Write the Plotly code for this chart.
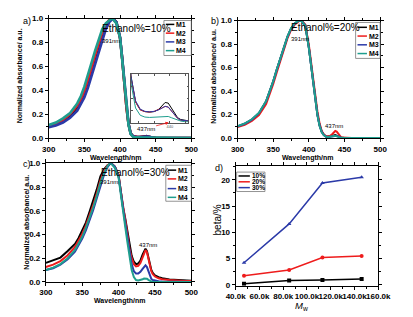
import plotly.graph_objects as go

W, H = 413, 317


def px(x):
    return x / W


def py(y):
    return 1 - y / H


# ---------------- data ----------------
wavelength = [300, 310, 320, 330, 340, 345, 350, 355, 360, 365, 370, 375, 380, 385, 388,
              390, 395, 400, 403, 406, 409, 412, 415, 418, 421, 424, 427, 430, 433, 435,
              437, 439, 441, 443, 445, 447, 450, 455, 460, 470, 480, 490, 500]

series_names = ["M1", "M2", "M3", "M4"]
series_colors = ["#000000", "#ee1c1c", "#2b3aa8", "#1f9e8e"]

# Panel a: Ethanol% = 10%
a_M1 = [0.100, 0.115, 0.145, 0.190, 0.260, 0.310, 0.380, 0.460, 0.570, 0.670,
        0.780, 0.870, 0.940, 0.985, 0.998, 1.000, 0.970, 0.840, 0.670, 0.460,
        0.260, 0.115, 0.039, 0.017, 0.0105, 0.0090, 0.0086, 0.0090, 0.0110, 0.0140,
        0.0165, 0.0160, 0.0120, 0.0070, 0.0040, 0.0025, 0.0015, 0.0007, 0.0004, 0.0002,
        0.0001, 0.0, 0.0]
a_M2 = [0.100, 0.120, 0.150, 0.200, 0.270, 0.320, 0.390, 0.480, 0.580, 0.690,
        0.790, 0.880, 0.950, 0.990, 1.000, 0.998, 0.965, 0.840, 0.670, 0.460,
        0.260, 0.115, 0.037, 0.017, 0.0105, 0.0090, 0.0087, 0.0092, 0.0108, 0.0122,
        0.0133, 0.0127, 0.0098, 0.0062, 0.0034, 0.0018, 0.0010, 0.0005, 0.0003, 0.0001,
        0.0, 0.0, 0.0]
a_M3 = [0.090, 0.105, 0.130, 0.170, 0.230, 0.280, 0.340, 0.420, 0.520, 0.620,
        0.730, 0.830, 0.910, 0.970, 0.990, 1.000, 0.970, 0.845, 0.675, 0.470,
        0.270, 0.120, 0.038, 0.018, 0.0110, 0.0092, 0.0088, 0.0092, 0.0105, 0.0120,
        0.0133, 0.0128, 0.0100, 0.0065, 0.0035, 0.0020, 0.0012, 0.0006, 0.0003, 0.0001,
        0.0, 0.0, 0.0]
a_M4 = [0.110, 0.130, 0.165, 0.210, 0.290, 0.350, 0.430, 0.520, 0.630, 0.730,
        0.830, 0.910, 0.960, 0.990, 1.000, 0.995, 0.960, 0.840, 0.665, 0.455,
        0.255, 0.110, 0.033, 0.012, 0.0060, 0.0045, 0.0042, 0.0045, 0.0050, 0.0052,
        0.0052, 0.0050, 0.0040, 0.0030, 0.0020, 0.0012, 0.0006, 0.0003, 0.0002, 0.0001,
        0.0, 0.0, 0.0]

# Panel b: Ethanol% = 20%
b_M1 = [0.100, 0.120, 0.155, 0.210, 0.310, 0.390, 0.480, 0.580, 0.670, 0.775,
        0.860, 0.930, 0.970, 0.995, 1.000, 0.995, 0.960, 0.770, 0.620, 0.470,
        0.330, 0.200, 0.110, 0.055, 0.028, 0.014, 0.011, 0.013, 0.018, 0.022,
        0.025, 0.022, 0.015, 0.008, 0.004, 0.002, 0.001, 0.0005, 0.0002, 0.0,
        0.0, 0.0, 0.0]
b_M2 = [0.095, 0.112, 0.145, 0.195, 0.290, 0.370, 0.460, 0.560, 0.655, 0.760,
        0.850, 0.920, 0.965, 0.990, 1.000, 0.997, 0.965, 0.790, 0.640, 0.490,
        0.350, 0.225, 0.125, 0.060, 0.030, 0.017, 0.015, 0.020, 0.035, 0.050,
        0.060, 0.055, 0.036, 0.018, 0.008, 0.004, 0.002, 0.001, 0.0005, 0.0,
        0.0, 0.0, 0.0]
b_M3 = [0.100, 0.122, 0.157, 0.212, 0.312, 0.392, 0.482, 0.582, 0.672, 0.777,
        0.862, 0.932, 0.972, 0.996, 1.000, 0.994, 0.958, 0.768, 0.618, 0.468,
        0.328, 0.198, 0.108, 0.053, 0.026, 0.013, 0.010, 0.012, 0.017, 0.021,
        0.023, 0.020, 0.014, 0.007, 0.003, 0.0015, 0.0008, 0.0004, 0.0002, 0.0,
        0.0, 0.0, 0.0]
b_M4 = [0.102, 0.124, 0.160, 0.215, 0.315, 0.395, 0.485, 0.585, 0.675, 0.780,
        0.865, 0.935, 0.975, 0.997, 1.000, 0.993, 0.955, 0.765, 0.615, 0.465,
        0.325, 0.195, 0.105, 0.050, 0.024, 0.012, 0.009, 0.010, 0.014, 0.017,
        0.019, 0.017, 0.012, 0.006, 0.003, 0.0015, 0.0008, 0.0004, 0.0002, 0.0,
        0.0, 0.0, 0.0]

# Panel c: Ethanol% = 30%
c_M1 = [0.160, 0.180, 0.205, 0.260, 0.320, 0.370, 0.430, 0.500, 0.590, 0.680,
        0.780, 0.890, 0.950, 0.985, 0.998, 1.000, 0.970, 0.900, 0.770, 0.630,
        0.540, 0.425, 0.300, 0.220, 0.170, 0.150, 0.155, 0.180, 0.230, 0.260,
        0.280, 0.260, 0.200, 0.140, 0.100, 0.075, 0.055, 0.040, 0.030, 0.020,
        0.015, 0.011, 0.010]
c_M2 = [0.125, 0.145, 0.175, 0.225, 0.295, 0.345, 0.405, 0.475, 0.555, 0.645,
        0.745, 0.855, 0.935, 0.985, 0.998, 1.000, 0.970, 0.900, 0.765, 0.625,
        0.530, 0.410, 0.280, 0.200, 0.150, 0.130, 0.135, 0.160, 0.210, 0.245,
        0.268, 0.250, 0.190, 0.130, 0.090, 0.065, 0.045, 0.030, 0.022, 0.015,
        0.010, 0.008, 0.007]
c_M3 = [0.100, 0.115, 0.145, 0.190, 0.255, 0.305, 0.365, 0.435, 0.515, 0.605,
        0.705, 0.815, 0.905, 0.970, 0.995, 1.000, 0.970, 0.890, 0.750, 0.600,
        0.500, 0.380, 0.250, 0.150, 0.090, 0.070, 0.070, 0.085, 0.110, 0.130,
        0.140, 0.125, 0.085, 0.050, 0.025, 0.015, 0.010, 0.005, 0.003, 0.002,
        0.001, 0.0, 0.0]
c_M4 = [0.100, 0.120, 0.150, 0.200, 0.270, 0.320, 0.380, 0.455, 0.535, 0.625,
        0.725, 0.835, 0.920, 0.980, 1.000, 0.997, 0.960, 0.880, 0.740, 0.580,
        0.470, 0.340, 0.200, 0.100, 0.040, 0.015, 0.012, 0.015, 0.022, 0.028,
        0.030, 0.027, 0.017, 0.008, 0.003, 0.001, 0.0, 0.0, 0.0, 0.0,
        0.0, 0.0, 0.0]

# Panel d: beta vs Mw
mw = [47000, 85000, 113000, 146000]
beta_names = ["10%", "20%", "30%"]
beta_colors = ["#000000", "#ee1c1c", "#2b3aa8"]
beta_symbols = ["square", "circle", "triangle-up"]
beta_10 = [0.2, 0.8, 0.9, 1.1]
beta_20 = [1.7, 2.8, 5.2, 5.5]
beta_30 = [4.2, 11.6, 19.4, 20.5]

wl_ticks = [300, 350, 400, 450, 500]
abs_ticks = [0.0, 0.2, 0.4, 0.6, 0.8, 1.0]
mw_ticks = [40000, 60000, 80000, 100000, 120000, 140000, 160000]
mw_ticktext = ["40.0k", "60.0k", "80.0k", "100.0k", "120.0k", "140.0k", "160.0k"]
beta_ticks = [0, 5, 10, 15, 20]
inset_ticks = [440]

ethanol_labels = ["Ethanol%=10%", "Ethanol%=20%", "Ethanol%=30%"]

# ---------------- figure ----------------
FONT = "Liberation Sans, Arial, sans-serif"
fig = go.Figure()

spectra = [("x", "y", [a_M1, a_M2, a_M3, a_M4], 2.6),
           ("x2", "y2", [b_M1, b_M2, b_M3, b_M4], 2.0),
           ("x3", "y3", [c_M1, c_M2, c_M3, c_M4], 2.0)]
for xa, ya, data, lw in spectra:
    for name, color, vals in zip(series_names, series_colors, data):
        fig.add_trace(go.Scatter(x=wavelength, y=vals, mode="lines", name=name,
                                 line=dict(color=color, width=lw),
                                 xaxis=xa, yaxis=ya, showlegend=False))

# inset of panel a
for name, color, vals in zip(series_names, series_colors, [a_M1, a_M2, a_M3, a_M4]):
    fig.add_trace(go.Scatter(x=wavelength, y=vals, mode="lines", name=name,
                             line=dict(color=color, width=1),
                             xaxis="x5", yaxis="y5", showlegend=False))

for name, color, sym, vals in zip(beta_names, beta_colors, beta_symbols,
                                  [beta_10, beta_20, beta_30]):
    fig.add_trace(go.Scatter(x=mw, y=vals, mode="lines+markers", name=name,
                             line=dict(color=color, width=1.5),
                             marker=dict(color=color, symbol=sym, size=4),
                             xaxis="x4", yaxis="y4", showlegend=False))

tickfont = dict(family=FONT, size=8, color="black", weight="bold")


def base_axis(domain, anchor, **kw):
    d = dict(domain=domain, anchor=anchor, showline=True, linecolor="black",
             linewidth=1, mirror="ticks", ticks="outside", ticklen=3,
             tickcolor="black", tickwidth=1, showgrid=False, zeroline=False,
             tickfont=tickfont, tickangle=0)
    d.update(kw)
    return d


def wl_axis(domain, anchor):
    return base_axis(domain, anchor, range=[300, 500], tickvals=wl_ticks,
                     minor=dict(ticks="outside", ticklen=2, tickvals=[325, 375, 425, 475],
                                tickcolor="black"))


def abs_axis(domain, anchor):
    return base_axis(domain, anchor, range=[0, 1.0], tickvals=abs_ticks,
                     tickformat=".1f",
                     minor=dict(ticks="outside", ticklen=2,
                                tickvals=[0.1, 0.3, 0.5, 0.7, 0.9], tickcolor="black"))


dom_a = ([px(41), px(192)], [py(138), py(15)])
dom_b = ([px(241), px(392)], [py(138), py(17)])
dom_c = ([px(38), px(192)], [py(286), py(164)])
dom_d = ([px(239), px(390)], [py(290), py(167)])
dom_i = ([px(128), px(189)], [py(122), py(72)])

fig.update_layout(
    width=W, height=H, margin=dict(l=0, r=0, t=0, b=0),
    paper_bgcolor="white", plot_bgcolor="white", showlegend=False,
    font=dict(family=FONT, color="black"),
    xaxis=wl_axis(dom_a[0], "y"), yaxis=abs_axis(dom_a[1], "x"),
    xaxis2=wl_axis(dom_b[0], "y2"), yaxis2=abs_axis(dom_b[1], "x2"),
    xaxis3=wl_axis(dom_c[0], "y3"), yaxis3=abs_axis(dom_c[1], "x3"),
    xaxis4=base_axis(dom_d[0], "y4", range=[40000, 160000], tickvals=mw_ticks,
                     ticktext=mw_ticktext,
                     minor=dict(ticks="outside", ticklen=2, tickcolor="black",
                                tickvals=[50000, 70000, 90000, 110000, 130000, 150000])),
    yaxis4=base_axis(dom_d[1], "x4", range=[-0.2, 22.6], tickvals=beta_ticks,
                     minor=dict(ticks="outside", ticklen=2, tickcolor="black",
                                tickvals=[2.5, 7.5, 12.5, 17.5, 22.5])),
    xaxis5=dict(domain=dom_i[0], anchor="y5", range=[415, 452], showline=True,
                linecolor="#555555", linewidth=0.8, mirror="ticks", ticks="inside",
                ticklen=2, tickcolor="#555555", tickvals=inset_ticks,
                tickfont=dict(family=FONT, size=4, color="#555555"),
                minor=dict(ticks="inside", ticklen=2, tickcolor="#555555", tickvals=[420, 430, 450]),
                showgrid=False, zeroline=False),
    yaxis5=dict(domain=dom_i[1], anchor="x5", range=[0, 0.04], showline=True,
                linecolor="#555555", linewidth=0.8, mirror="ticks", ticks="inside",
                ticklen=2, tickcolor="#555555", tickvals=[0.01, 0.02, 0.03],
                showticklabels=False, showgrid=False, zeroline=False),
)

ann = []
shapes = []


def text(x, y, t, size, **kw):
    d = dict(x=px(x), y=py(y), xref="paper", yref="paper", text=t, showarrow=False,
             font=dict(family=FONT, size=size, color="black"), xanchor="center",
             yanchor="middle", borderpad=0)
    d.update(kw)
    ann.append(d)


# panel labels
text(18, 17, "a)", 9)
text(217, 17, "b)", 9)
text(18, 165, "c)", 9)
text(221, 169, "d)", 9)

# axis titles
text(112, 158, "<b>Wavelength/nm</b>", 7)
text(315, 158, "<b>Wavelength/nm</b>", 7)
text(116, 305.5, "<b>Wavelength/nm</b>", 7)
text(10, 74, "<b>Normalized absorbance/ a.u.</b>", 7, textangle=-90)
text(216, 74, "<b>Normalized absorbance/ a.u.</b>", 7, textangle=-90)
text(18, 224, "<b>Normalized absorbance/ a.u.</b>", 7, textangle=-90)
text(309, 311, "<i>M</i><sub>w</sub>", 9.5)
text(220, 222, "beta/%", 10, textangle=-90)

# ethanol labels and peak labels (data coordinates)
for xr, yr, lab, yy in [("x", "y", ethanol_labels[0], 0.92), ("x2", "y2", ethanol_labels[1], 0.94),
                        ("x3", "y3", ethanol_labels[2], 0.92)]:
    ann.append(dict(x=423, y=yy, xref=xr, yref=yr, text=lab, showarrow=False,
                    font=dict(family=FONT, size=10, color="black")))
for xr, yr, yy in [("x", "y", 0.81), ("x2", "y2", 0.84), ("x3", "y3", 0.84)]:
    ann.append(dict(x=387, y=yy, xref=xr, yref=yr, text="391nm", showarrow=False,
                    font=dict(family=FONT, size=6, color="black")))
ann.append(dict(x=435, y=0.10, xref="x2", yref="y2", text="437nm", showarrow=False,
                font=dict(family=FONT, size=6, color="black")))
ann.append(dict(x=440, y=0.31, xref="x3", yref="y3", text="437nm", showarrow=False,
                font=dict(family=FONT, size=6, color="black")))
# panel a arrow to inset
ann.append(dict(x=px(168), y=py(122), xref="paper", yref="paper", text="437nm",
                showarrow=True, ax=-23, ay=6, arrowcolor="#ee1c1c", arrowwidth=0.8,
                arrowhead=2, arrowsize=0.8,
                font=dict(family=FONT, size=6, color="black")))


# manual legends
def legend(box, rows, x0, x1, xt, names, colors, size):
    shapes.append(dict(type="rect", xref="paper", yref="paper", x0=px(box[0]), x1=px(box[2]),
                       y0=py(box[3]), y1=py(box[1]), line=dict(color="#777777", width=0.8),
                       fillcolor="rgba(255,255,255,0)"))
    for yrow, nm, col in zip(rows, names, colors):
        shapes.append(dict(type="line", xref="paper", yref="paper", x0=px(x0), x1=px(x1),
                           y0=py(yrow), y1=py(yrow), line=dict(color=col, width=1.5)))
        text(xt, yrow, "<b>" + nm + "</b>", size, xanchor="left")


legend((163, 17, 192, 53), [21, 30, 39, 48], 165, 174, 175, series_names, series_colors, 7)
legend((366, 19, 392, 56), [24, 33, 42, 51], 368, 378, 379, series_names, series_colors, 7)
legend((165, 166, 192, 203), [171, 180, 190, 199], 167, 176, 177, series_names, series_colors, 7)
legend((240, 173, 270, 193), [177, 183, 189], 242, 254, 255, beta_names, beta_colors, 6.5)

fig.update_layout(annotations=ann, shapes=shapes)
fig.write_html("out.html", config={"displayModeBar": False},
               post_script="document.body.style.margin='0';document.body.style.overflow='hidden';")
